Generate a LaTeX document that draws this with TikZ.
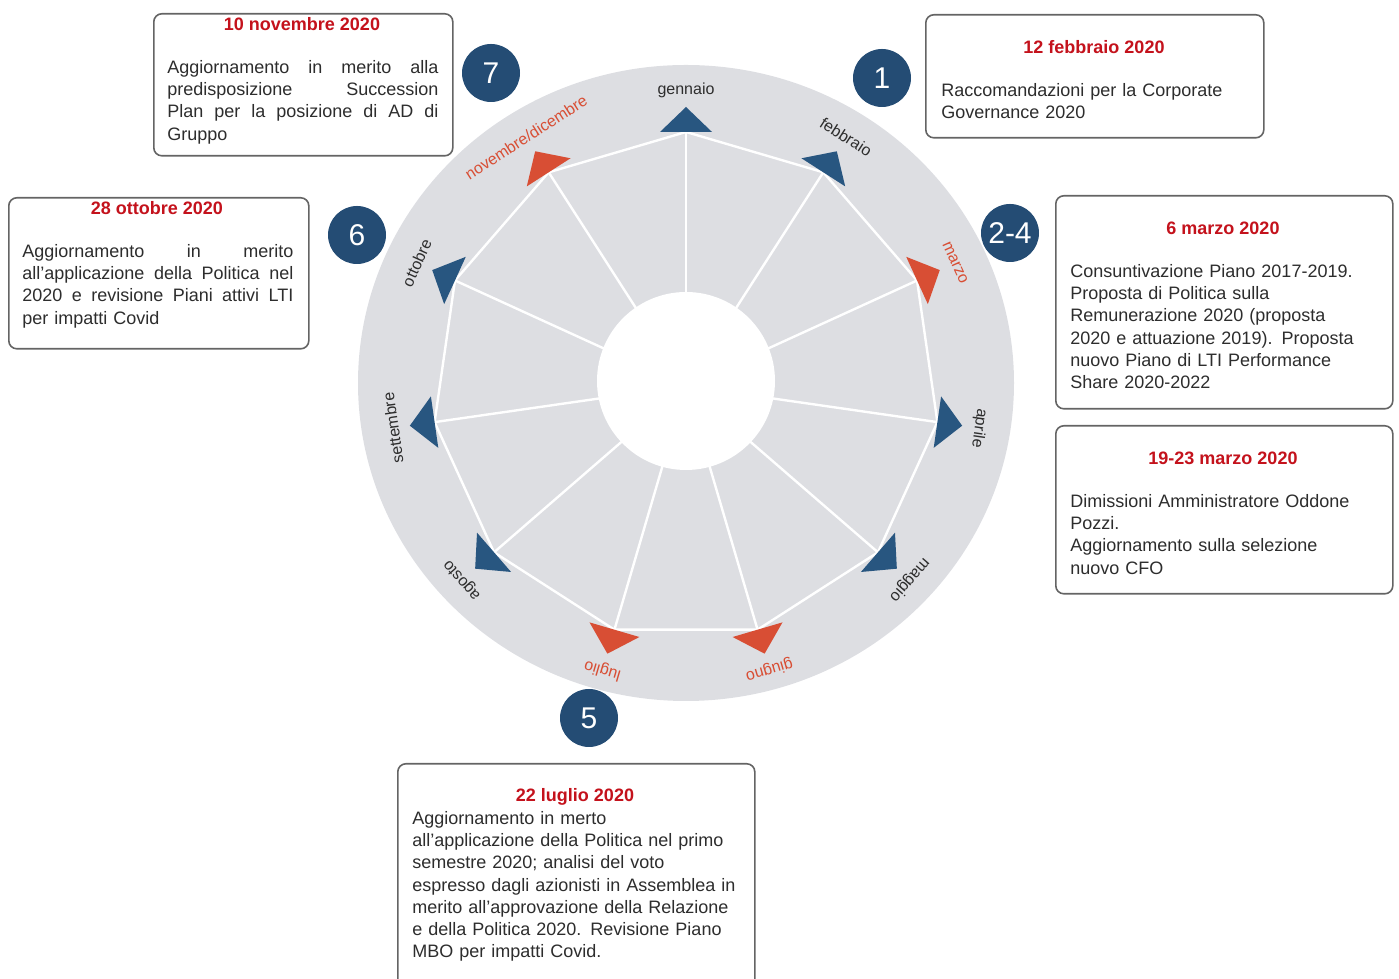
\documentclass[tikz,border=0pt]{standalone}
\usepackage{fontspec}
\setmainfont{Liberation Sans}
\usetikzlibrary{positioning,calc}
\definecolor{wheelgray}{RGB}{221,222,226}
\definecolor{markblue}{RGB}{40,86,128}
\definecolor{markred}{RGB}{216,78,52}
\definecolor{stepblue}{RGB}{36,76,116}
\definecolor{datered}{RGB}{196,18,28}
\definecolor{bodygray}{RGB}{45,45,45}
\definecolor{framegray}{RGB}{100,100,100}
\tikzset{
  evtbox/.style={draw=framegray, line width=0.8pt, rounded corners=4pt, fill=white, anchor=north west, inner sep=0pt},
  evtdate/.style={font=\fontsize{9}{11}\selectfont\bfseries, text=datered, inner sep=0pt},
  evttext/.style={font=\fontsize{9}{11.1}\selectfont, text=bodygray, align=left, anchor=north west, inner sep=0pt},
  stepdot/.style={circle, fill=stepblue, minimum size=29pt, inner sep=0pt, text=white, font=\fontsize{15}{15}\selectfont},
  monthlbl/.style={font=\fontsize{8}{8}\selectfont, inner sep=0pt},
  spoke/.style={draw=white, line width=1.2pt}
}

\begin{document}
\begin{tikzpicture}[x=0.5pt, y=0.5pt]
\useasboundingbox (0,0) rectangle (1399,979);
\coordinate (ctr) at (686,593);
\coordinate (disk) at (686,596);
\coordinate (hub) at (686,598);
\fill[wheelgray] (disk) ellipse [x radius=164pt, y radius=159pt];
\foreach \i in {0,...,10}{\coordinate (v\i) at ($(ctr)+({90-\i*360/11}:254)$);}
\draw[spoke] (v0) \foreach \i in {1,...,10}{-- (v\i)} -- cycle;
\foreach \i in {0,...,10}{\draw[spoke] (ctr) -- (v\i);}
\fill[white] (hub) circle [radius=44.5pt];
\foreach \m/\c/\t [count=\i from 0] in {gennaio/markblue/bodygray, febbraio/markblue/bodygray, marzo/markred/markred, aprile/markblue/bodygray, maggio/markblue/bodygray, giugno/markred/markred, luglio/markred/markred, agosto/markblue/bodygray, settembre/markblue/bodygray, ottobre/markblue/bodygray, {novembre/dicembre}/markred/markred}{
  \pgfmathsetmacro\a{90-\i*360/11}
  \fill[\c] ($(v\i)+({\a+90}:26)$) -- ($(v\i)+(\a:25)$) -- ($(v\i)+({\a-90}:26)$) -- cycle;
  \node[monthlbl, text=\t, rotate=\a-90] (m\i) at ($(ctr)+(\a:296)$) {\m};
}

\node[stepdot] (n1) at (882,901) {1};
\node[stepdot] (n24) at (1010,746) {2-4};
\node[stepdot] (n5) at (589,261) {5};
\node[stepdot] (n6) at (357,744) {6};
\node[stepdot] (n7) at (491,906) {7};

\node[evtbox, minimum width=149.5pt, minimum height=71pt] (b7) at (153,966) {};
\node[evtdate] (t7) at (302,955) {10 novembre 2020};
\node[evttext, text width=135.5pt] (d7) at (167,919) {Aggiornamento\hfill in\hfill merito\hfill alla\\ predisposizione\hfill Succession\\ Plan\hfill per\hfill la\hfill posizione\hfill di\hfill AD\hfill di\\ Gruppo};

\node[evtbox, minimum width=169pt, minimum height=61.5pt] (b1) at (925,965) {};
\node[evtdate] (t1) at (1094,932) {12 febbraio 2020};
\node[evttext, text width=155pt] (d1) at (941,896) {Raccomandazioni per la Corporate\\ Governance 2020};

\node[evtbox, minimum width=150pt, minimum height=75.5pt] (b6) at (8,782) {};
\node[evtdate] (t6) at (157,771) {28 ottobre 2020};
\node[evttext, text width=135.5pt] (d6) at (22,735) {Aggiornamento\hfill in\hfill merito\\ all'applicazione\hfill della\hfill Politica\hfill nel\\ 2020\hfill e\hfill revisione\hfill Piani\hfill attivi\hfill LTI\\ per impatti Covid};

\node[evtbox, minimum width=168.5pt, minimum height=106.5pt] (b24) at (1055,784) {};
\node[evtdate] (t24) at (1223,751) {6 marzo 2020};
\node[evttext, text width=155pt] (d24) at (1070,715) {Consuntivazione Piano 2017-2019.\\ Proposta di Politica sulla\\ Remunerazione 2020 (proposta\\ 2020 e attuazione 2019). Proposta\\ nuovo Piano di LTI Performance\\ Share 2020-2022};

\node[evtbox, minimum width=168.5pt, minimum height=84pt] (b19) at (1055,554) {};
\node[evtdate] (t19) at (1223,521) {19-23 marzo 2020};
\node[evttext, text width=155pt] (d19) at (1070,485) {Dimissioni Amministratore Oddone\\ Pozzi.\\ Aggiornamento sulla selezione\\ nuovo CFO};

\node[evtbox, minimum width=178.5pt, minimum height=113.5pt] (b5) at (397,216) {};
\node[evtdate] (t5) at (575,182) {22 luglio 2020};
\node[evttext, text width=165pt] (d5) at (412,168) {Aggiornamento in merto\\ all'applicazione della Politica nel primo\\ semestre 2020; analisi del voto\\ espresso dagli azionisti in Assemblea in\\ merito all'approvazione della Relazione\\ e della Politica 2020. Revisione Piano\\ MBO per impatti Covid.};
\end{tikzpicture}
\end{document}
